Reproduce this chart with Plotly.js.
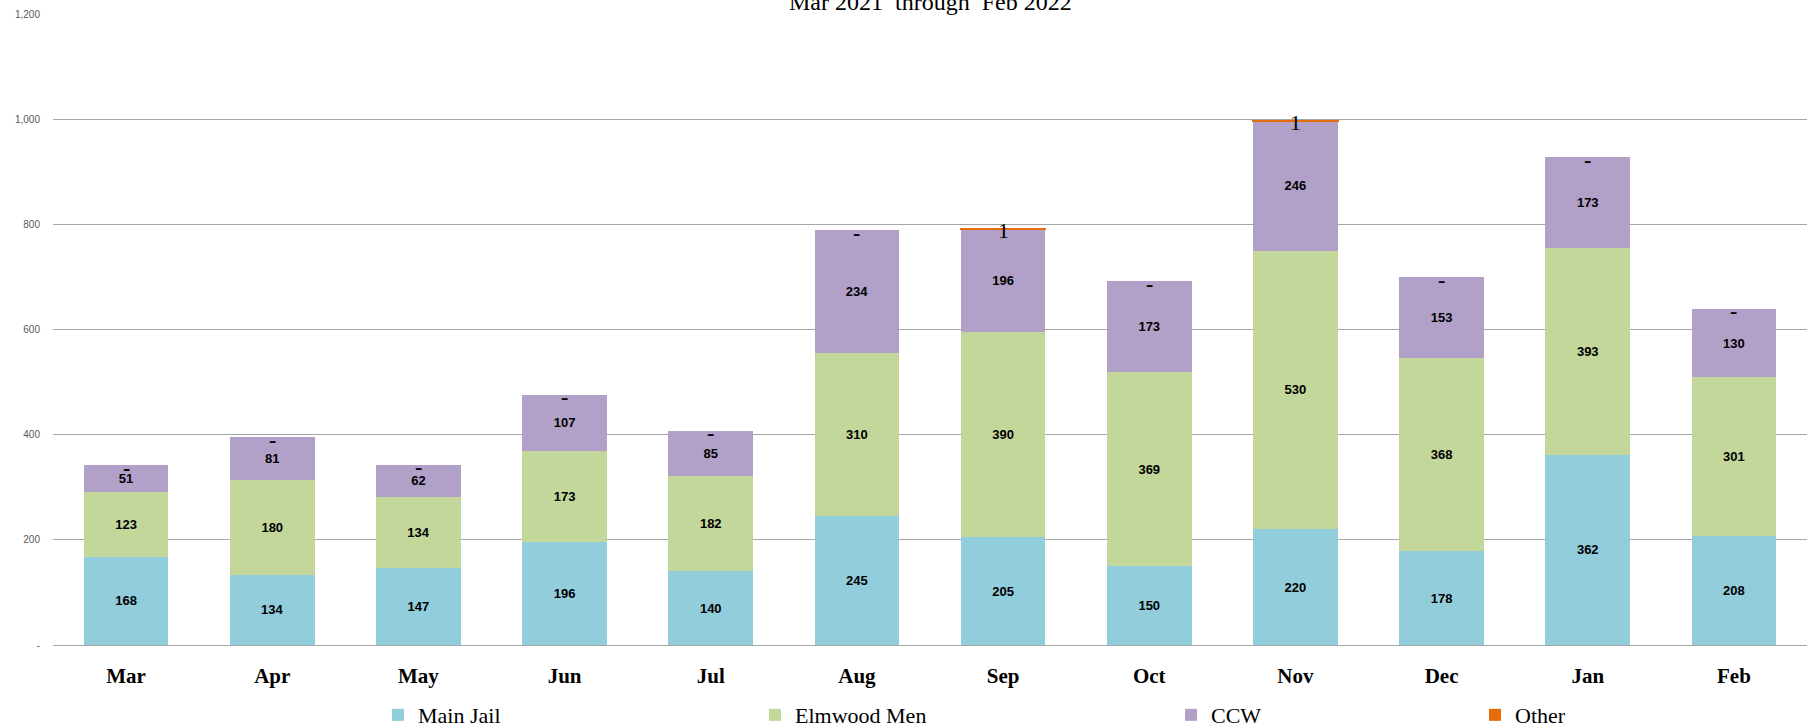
<!DOCTYPE html>
<html>
<head>
<meta charset="utf-8">
<script src="https://cdn.plot.ly/plotly-3.0.1.min.js"></script>
<style>html,body{margin:0;padding:0;background:#fff;}#chart{width:1814px;height:727px;}</style>
</head>
<body>
<div id="chart"></div>
<script>
const months = ['Mar','Apr','May','Jun','Jul','Aug','Sep','Oct','Nov','Dec','Jan','Feb'];
const mainJail = [168,134,147,196,140,245,205,150,220,178,362,208];
const elmwoodMen = [123,180,134,173,182,310,390,369,530,368,393,301];
const ccw = [51,81,62,107,85,234,196,173,246,153,173,130];
const other = [0,0,0,0,0,0,1,0,1,0,0,0];
const seriesNames = ['Main Jail','Elmwood Men','CCW','Other'];
const yTickVals = [0,200,400,600,800,1000,1200];
const yTickText = ['-','200','400','600','800','1,000','1,200'];
const titleText = 'Mar 2021  through  Feb 2022';

const totals = months.map((m,i)=>mainJail[i]+elmwoodMen[i]+ccw[i]+other[i]);
const serif = 'Liberation Serif';
const sans = 'Liberation Sans';
const labelFont = {family: sans, size: 13, color: '#000', weight: 'bold'};

function barTrace(name, vals, color, legendId){
  return {
    type:'bar', name:name, x:months, y:vals,
    marker:{color:color, line:{width:0}},
    text: vals.map(String), textposition:'inside', insidetextanchor:'middle',
    textangle:0, textfont:labelFont, cliponaxis:false,
    hoverinfo:'none', legend: legendId
  };
}
const traces = [
  barTrace(seriesNames[0], mainJail, '#92CDDC', 'legend'),
  barTrace(seriesNames[1], elmwoodMen, '#C4D79B', 'legend2'),
  barTrace(seriesNames[2], ccw, '#B1A0C7', 'legend3'),
  {
    type:'bar', name:seriesNames[3], x:months, y:other,
    marker:{color:'#E46C0A', line:{color:'#E46C0A', width: other.map(v=>v>0?1.5:0)}},
    hoverinfo:'none', legend:'legend4'
  }
];

const annotations = months.map((m,i)=>({
  x:m, y:totals[i], xref:'x', yref:'y',
  text: other[i]===0 ? '<b>-</b>' : String(other[i]),
  showarrow:false, yshift:-2,
  font:{family:serif, size:22, color:'#000'}
}));
annotations.push({
  xref:'paper', yref:'paper', x:0.5, y:1, yshift:12, yanchor:'middle',
  text:titleText, showarrow:false,
  font:{family:serif, size:24, color:'#000'}
});

function leg(px){
  return {orientation:'h', yanchor:'middle', xanchor:'left', y:-0.111,
    x:(px - 53)/1754, font:{family:serif, size:22, color:'#000'},
    bgcolor:'rgba(0,0,0,0)', itemwidth:30};
}

const layout = {
  width:1814, height:727,
  font:{family:serif, color:'#000'},
  margin:{l:53, r:7, t:14, b:82, autoexpand:false},
  paper_bgcolor:'#fff', plot_bgcolor:'#fff',
  barmode:'stack', bargap:0.42,
  showlegend:true,
  legend: leg(378),
  legend2: leg(755),
  legend3: leg(1171),
  legend4: leg(1475),
  xaxis:{
    type:'category', tickfont:{family:serif, size:21, color:'#000', weight:'bold'},
    showgrid:false, showline:true, linecolor:'#A6A6A6', linewidth:1,
    ticks:'', ticklabelstandoff:12, fixedrange:true
  },
  yaxis:{
    range:[0,1200], tickvals:yTickVals, ticktext:yTickText,
    tickfont:{family:sans, size:10, color:'#595959'},
    showgrid:true, gridcolor:'#A6A6A6', gridwidth:1,
    zeroline:true, zerolinecolor:'#A6A6A6', zerolinewidth:1,
    showline:false, ticks:'', ticklabelstandoff:12, fixedrange:true
  },
  annotations: annotations
};
Plotly.newPlot('chart', traces, layout, {displayModeBar:false, staticPlot:true});
</script>
</body>
</html>
